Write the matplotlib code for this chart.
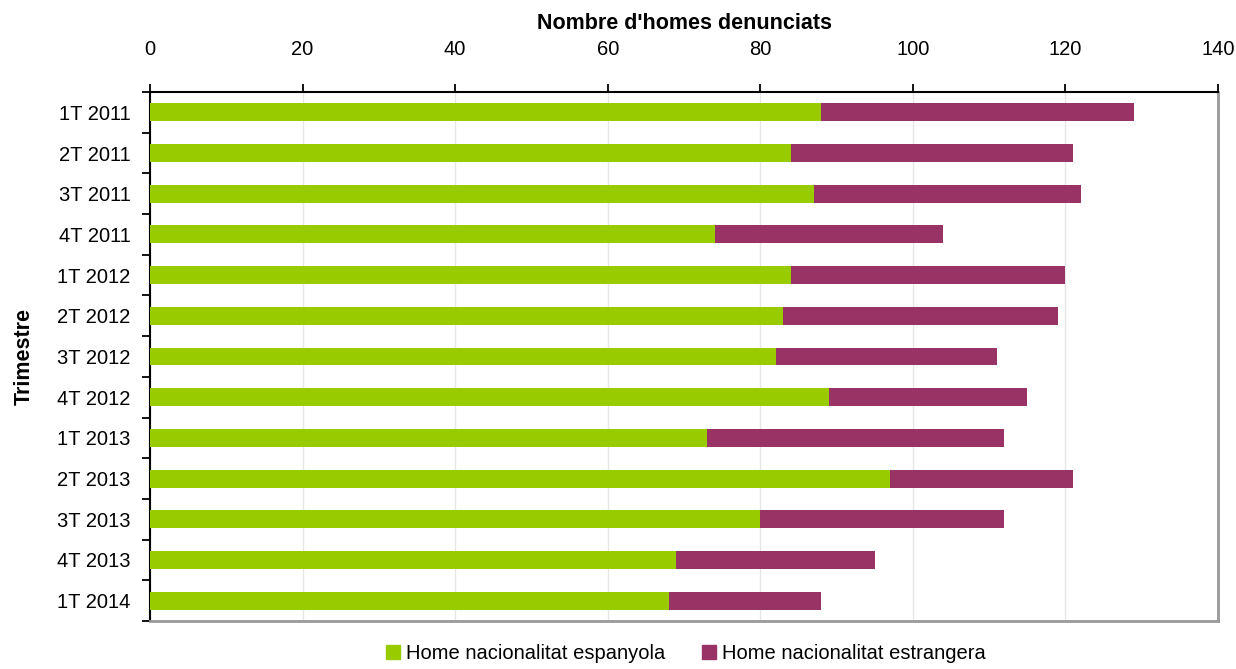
import matplotlib.pyplot as plt
from matplotlib.patches import Patch

plt.rcParams['font.family'] = ['Liberation Sans', 'DejaVu Sans']

trimestres = ['1T 2011', '2T 2011', '3T 2011', '4T 2011',
              '1T 2012', '2T 2012', '3T 2012', '4T 2012',
              '1T 2013', '2T 2013', '3T 2013', '4T 2013', '1T 2014']
espanyola = [88, 84, 87, 74, 84, 83, 82, 89, 73, 97, 80, 69, 68]
estrangera = [41, 37, 35, 30, 36, 36, 29, 26, 39, 24, 32, 26, 20]

green = '#99cc00'
purple = '#993366'

fig = plt.figure(figsize=(12.36, 6.69), dpi=100)
ax = fig.add_axes([0.1214, 0.0717, 0.8640, 0.7908])

y = list(range(len(trimestres)))
ax.barh(y, espanyola, height=0.44, color=green, zorder=3)
ax.barh(y, estrangera, left=espanyola, height=0.44, color=purple, zorder=3)

ax.set_ylim(len(trimestres) - 0.5, -0.5)
ax.set_xlim(0, 140)
ax.set_xticks(range(0, 141, 20))
ax.xaxis.tick_top()
ax.xaxis.set_label_position('top')
ax.set_xlabel("Nombre d'homes denunciats", fontsize=15.5, fontweight='bold', labelpad=8)
ax.set_ylabel('Trimestre', fontsize=15.5, fontweight='bold', labelpad=16)

ax.set_yticks(y)
ax.set_yticklabels(trimestres)
ax.set_yticks([i - 0.5 for i in range(len(trimestres) + 1)], minor=True)
ax.tick_params(axis='y', which='major', length=0, labelsize=14.5, pad=14)
ax.tick_params(axis='y', which='minor', length=6, width=1.3, direction='out')
ax.tick_params(axis='x', length=6, width=1.3, direction='out', labelsize=14.5, pad=18)

ax.grid(axis='x', color='#e6e6e6', linewidth=1, zorder=0)
ax.spines['top'].set_linewidth(1.5)
ax.spines['left'].set_linewidth(1.5)
ax.spines['right'].set_color('#999999')
ax.spines['right'].set_linewidth(2)
ax.spines['bottom'].set_color('#999999')
ax.spines['bottom'].set_linewidth(2)

handles = [Patch(color=green, label='Home nacionalitat espanyola'),
           Patch(color=purple, label='Home nacionalitat estrangera')]
fig.legend(handles=handles, loc='lower center', bbox_to_anchor=(0.555, -0.018),
           ncol=2, frameon=False, fontsize=14.5, handlelength=0.7, handleheight=0.7,
           handletextpad=0.3, columnspacing=1.8)

fig.savefig('out.png', dpi=100)
